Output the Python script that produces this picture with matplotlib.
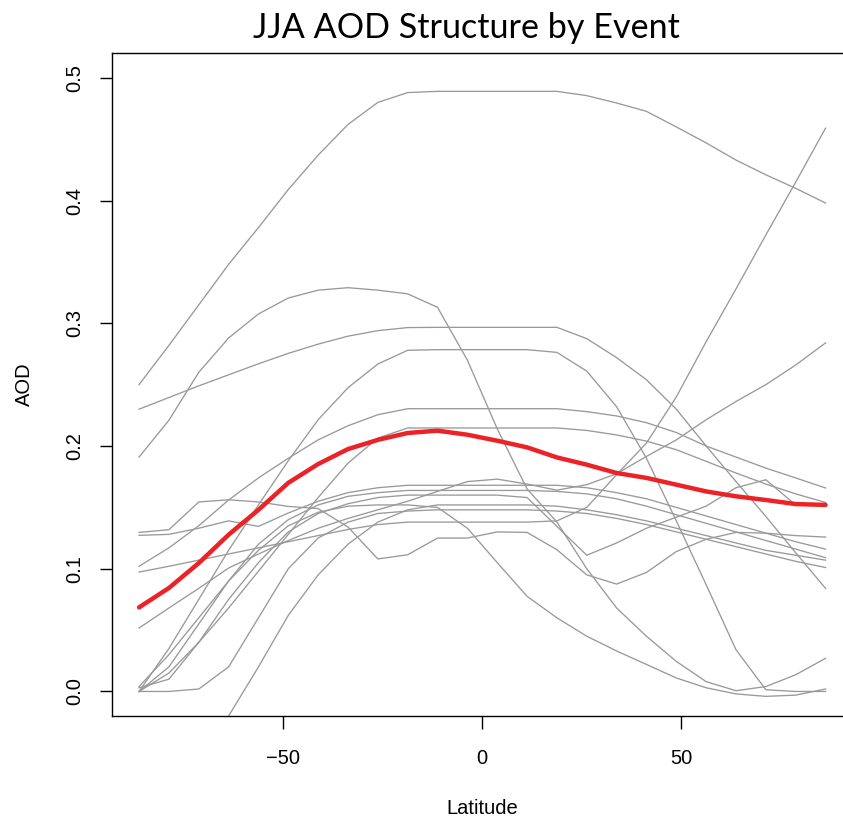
import numpy as np
import matplotlib
matplotlib.use("Agg")
import matplotlib.pyplot as plt

# latitude of each grid row (deg)
lat = [-86.25, -78.75, -71.25, -63.75, -56.25, -48.75, -41.25, -33.75,
       -26.25, -18.75, -11.25, -3.75, 3.75, 11.25, 18.75, 26.25,
       33.75, 41.25, 48.75, 56.25, 63.75, 71.25, 78.75, 86.25]

# AOD structure of each event
ev_a = [0.250, 0.282, 0.315, 0.348, 0.378, 0.409, 0.437, 0.462, 0.480, 0.488, 0.489, 0.489,
        0.489, 0.489, 0.489, 0.4855, 0.4795, 0.4727, 0.460, 0.447, 0.433, 0.421, 0.410, 0.398]
ev_b = [0.191, 0.221, 0.260, 0.288, 0.3076, 0.3206, 0.327, 0.329, 0.327, 0.324, 0.313, 0.270,
        0.214, 0.165, 0.138, 0.100, 0.068, 0.045, 0.0245, 0.008, 0.0006, 0.004, 0.0136, 0.027]
ev_c = [0.230, 0.2395, 0.249, 0.258, 0.267, 0.2755, 0.283, 0.2895, 0.294, 0.2965, 0.2967, 0.2967,
        0.2967, 0.2967, 0.2967, 0.2875, 0.272, 0.254, 0.230, 0.200, 0.171, 0.1426, 0.113, 0.084]
ev_d = [0.0, 0.035, 0.075, 0.115, 0.152, 0.188, 0.2214, 0.2475, 0.2668, 0.278, 0.2785, 0.2785,
        0.2785, 0.2785, 0.2763, 0.261, 0.232, 0.190, 0.139, 0.087, 0.034, 0.0014, 0.0, 0.0]
ev_e = [0.102, 0.117, 0.135, 0.156, 0.174, 0.190, 0.205, 0.2165, 0.2255, 0.2304, 0.2304, 0.2304,
        0.2304, 0.2304, 0.2304, 0.228, 0.2245, 0.219, 0.211, 0.200, 0.191, 0.182, 0.174, 0.1658]
ev_f = [0.0, 0.015, 0.040, 0.068, 0.098, 0.128, 0.158, 0.186, 0.2065, 0.2147, 0.2147, 0.2147,
        0.2147, 0.2147, 0.2147, 0.2127, 0.209, 0.204, 0.197, 0.1875, 0.178, 0.169, 0.161, 0.154]
ev_g = [0.0973, 0.102, 0.107, 0.112, 0.117, 0.122, 0.127, 0.132, 0.136, 0.138, 0.138, 0.138,
        0.138, 0.138, 0.139, 0.150, 0.1766, 0.2024, 0.240, 0.285, 0.328, 0.372, 0.415, 0.459]
ev_h = [0.0517, 0.068, 0.084, 0.1006, 0.112, 0.123, 0.133, 0.141, 0.148, 0.155, 0.163, 0.171,
        0.173, 0.169, 0.164, 0.1685, 0.1774, 0.1915, 0.205, 0.2214, 0.2363, 0.250, 0.266, 0.284]
ev_i = [0.003, 0.010, 0.040, 0.075, 0.105, 0.130, 0.145, 0.153, 0.158, 0.160, 0.160, 0.160,
        0.160, 0.158, 0.1345, 0.111, 0.121, 0.133, 0.142, 0.151, 0.166, 0.1725, 0.152, 0.152]
ev_j = [0.004, 0.030, 0.060, 0.090, 0.115, 0.135, 0.146, 0.151, 0.152, 0.152, 0.150, 0.133,
        0.105, 0.0775, 0.060, 0.045, 0.033, 0.022, 0.011, 0.003, -0.002, -0.004, -0.003, 0.002]
ev_k = [0.1296, 0.1318, 0.1544, 0.1562, 0.1544, 0.1508, 0.149, 0.134, 0.108, 0.1114, 0.125, 0.125,
        0.130, 0.1296, 0.1155, 0.095, 0.0875, 0.097, 0.114, 0.124, 0.1296, 0.129, 0.127, 0.1258]
ev_l = [0.1272, 0.128, 0.133, 0.139, 0.1345, 0.1454, 0.155, 0.162, 0.166, 0.168, 0.168, 0.168,
        0.168, 0.168, 0.168, 0.166, 0.162, 0.157, 0.150, 0.143, 0.136, 0.129, 0.122, 0.116]
ev_m = [0.0, 0.020, 0.055, 0.090, 0.120, 0.140, 0.152, 0.159, 0.162, 0.1638, 0.1638, 0.1638,
        0.1638, 0.1638, 0.163, 0.161, 0.157, 0.151, 0.144, 0.137, 0.130, 0.123, 0.116, 0.109]
ev_n = [-0.14, -0.10, -0.06, -0.02, 0.020, 0.062, 0.095, 0.120, 0.138, 0.148, 0.152, 0.152,
        0.152, 0.152, 0.151, 0.148, 0.144, 0.139, 0.133, 0.127, 0.121, 0.115, 0.111, 0.107]
ev_o = [0.0, 0.0, 0.002, 0.020, 0.060, 0.100, 0.125, 0.138, 0.145, 0.147, 0.148, 0.148,
        0.148, 0.148, 0.147, 0.145, 0.141, 0.136, 0.130, 0.124, 0.118, 0.112, 0.106, 0.101]

events = [ev_a, ev_b, ev_c, ev_d, ev_e, ev_f, ev_g, ev_h, ev_i, ev_j, ev_k, ev_l, ev_m, ev_n, ev_o]

# mean structure (red)
mean_aod = [0.0685, 0.0843, 0.1046, 0.1277, 0.148, 0.170, 0.1853, 0.1975, 0.205, 0.2106, 0.2125, 0.2092,
            0.2043, 0.1989, 0.1907, 0.1848, 0.178, 0.174, 0.1685, 0.163, 0.159, 0.156, 0.1527, 0.152]

xticks = [-50, 0, 50]
yticks = [0.0, 0.1, 0.2, 0.3, 0.4, 0.5]

plt.rcParams['font.family'] = ['Liberation Sans', 'DejaVu Sans']

fig = plt.figure(figsize=(8.43, 8.24), dpi=100)
# plot box runs a little past the right edge of the picture, as in the original
ax = fig.add_axes([111.6 / 843, 108 / 824, 741.4 / 843, 662.7 / 824])

for ev in events:
    ax.plot(lat, ev, color='#999999', lw=0.95, solid_joinstyle='miter')
ax.plot(lat, mean_aod, color='#ec2227', lw=3.2, solid_joinstyle='round', solid_capstyle='round')

ax.set_xlim(-93.15, 93.15)
ax.set_ylim(-0.02, 0.52)
ax.set_xticks(xticks)
ax.set_xticklabels(['\u221250', '0', '50'])
ax.set_yticks(yticks)
ax.set_yticklabels(['%.1f' % t for t in yticks], rotation=90, va='center')
ax.tick_params(direction='out', length=9, width=1, labelsize=14.5, pad=15)
ax.tick_params(axis='y', pad=11)
for sp in ax.spines.values():
    sp.set_linewidth(1.0)

ax.set_xlabel('Latitude', fontsize=14.5, labelpad=22)
ax.set_ylabel('AOD', fontsize=14.5, labelpad=22)

fig.text(466 / 843, 1 - 38 / 824, 'JJA AOD Structure by Event', family='Lato',
         fontsize=24.6, ha='center', va='baseline')

fig.savefig('out.png', dpi=100)
